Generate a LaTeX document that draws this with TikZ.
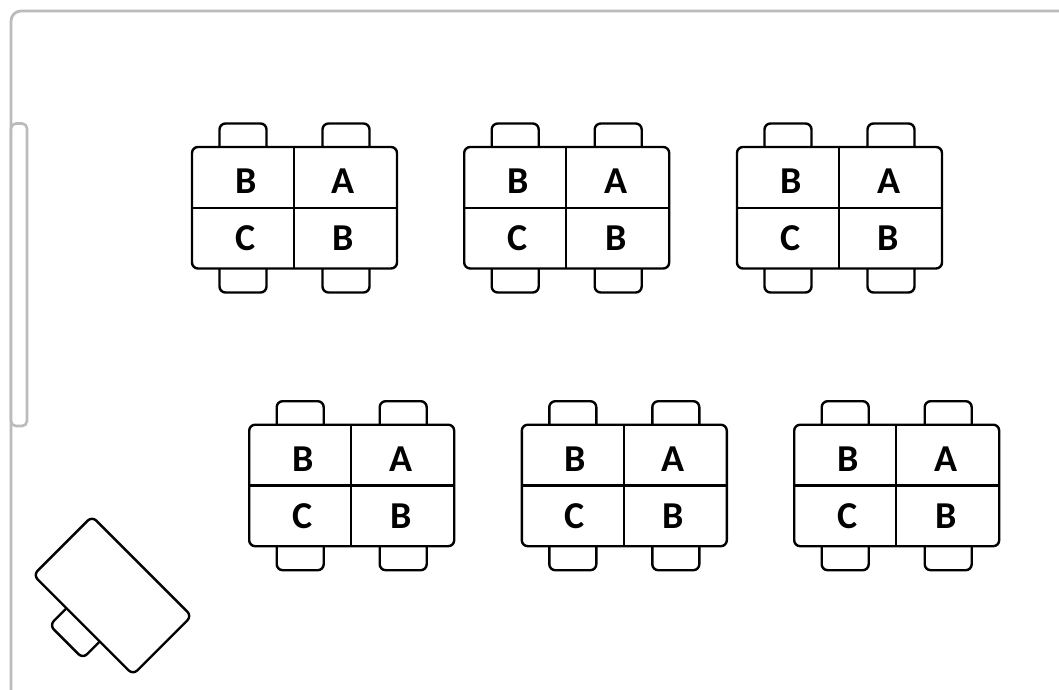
\documentclass[tikz,border=0pt]{standalone}
\usepackage{fontspec}
\setmainfont{Carlito}
\tikzset{
  plan/.style={x=1pt,y=-1pt},
  wall/.style={draw=wallgray,line width=2.8pt,rounded corners=10pt},
  door/.style={draw=wallgray,line width=2.6pt,rounded corners=5pt,fill=white},
  furn/.style={draw=black,line width=2.4pt,rounded corners=6pt,fill=white},
  rule/.style={draw=black,line width=2.4pt},
  seatlabel/.style={font=\fontsize{38}{38}\selectfont\bfseries,text=black,inner sep=0pt,anchor=center}
}
\definecolor{wallgray}{HTML}{BBBBBB}
\newcommand{\deskgroup}[3]{%
  \begin{scope}[shift={(#1,#2)}]
    \draw[furn] (27.5,-23.5) rectangle (74.5,30);
    \draw[furn] (130.5,-23.5) rectangle (177.5,30);
    \draw[furn] (27.5,90) rectangle (74.5,145.5);
    \draw[furn] (130.5,90) rectangle (177.5,145.5);
    \draw[furn] (0,0) rectangle (205,121.5);
    \draw[rule] (102,0) -- (102,121.5);
    \draw[rule] (0,60.7) -- (205,60.7);
    \node[seatlabel] (#3tl) at (53.7,34.3) {B};
    \node[seatlabel] (#3tr) at (151.5,34.3) {A};
    \node[seatlabel] (#3bl) at (53.2,91.3) {C};
    \node[seatlabel] (#3br) at (151.5,91.3) {B};
  \end{scope}}
\begin{document}
\begin{tikzpicture}[plan]
  \useasboundingbox (0,0) rectangle (1059,689);
  \clip (0,0) rectangle (1059,689);
  \fill[white] (0,0) rectangle (1059,689);
  \draw[wall] (11,696) -- (11,11) -- (1075,11);
  \draw[door] (11,123.5) rectangle (27,426);
  \deskgroup{192}{147}{a}
  \deskgroup{464.2}{147}{b}
  \deskgroup{737}{147}{c}
  \deskgroup{249.2}{424.7}{d}
  \deskgroup{521.8}{424.7}{e}
  \deskgroup{794.2}{424.7}{f}
  \begin{scope}[shift={(112.5,595.5)},rotate=-45]
    \draw[furn] (-23.5,20) rectangle (23.5,65.5);
    \draw[furn] (-70.5,-41.5) rectangle (70.5,41.5);
  \end{scope}
\end{tikzpicture}
\end{document}
